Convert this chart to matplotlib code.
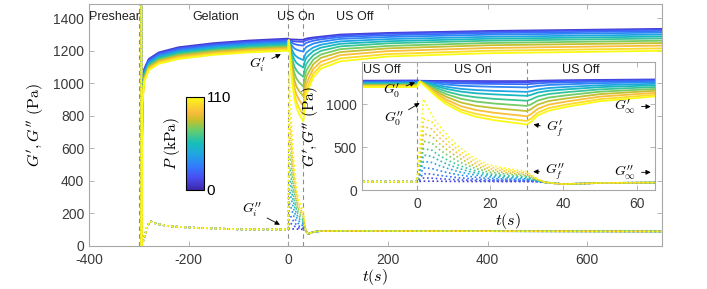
"""
G', G'' during gelation and an ultrasound on/off cycle, coloured by pressure P.
Main panel: whole run. Inset: zoom on the sonication window.
"""
import matplotlib
matplotlib.use("Agg")
import matplotlib.pyplot as plt
from matplotlib.cm import ScalarMappable
from matplotlib.colors import LinearSegmentedColormap, Normalize

plt.rcParams["font.family"] = ["Liberation Sans", "DejaVu Sans"]
plt.rcParams["mathtext.fontset"] = "cm"
plt.rcParams["axes.unicode_minus"] = False

# ── data ──────────────────────────────────────────────────────────────────────

pressures = [8, 16, 24, 32, 42, 52, 62, 72, 82, 92, 101, 110]  # kPa

# G' : gelation, US on, US off (one row per pressure)
t_gel = [-294.6, -293, -289, -280, -260, -220, -150, -80, 0]
gp_gel = [
    [0, 960, 1090, 1150, 1190, 1222, 1247, 1263, 1275],
    [0, 952, 1083, 1144, 1184, 1215, 1240, 1256, 1268],
    [0, 944, 1076, 1137, 1177, 1209, 1234, 1250, 1261],
    [0, 935, 1068, 1131, 1171, 1202, 1227, 1243, 1255],
    [0, 927, 1061, 1124, 1164, 1196, 1221, 1236, 1248],
    [0, 919, 1054, 1118, 1158, 1189, 1214, 1230, 1241],
    [0, 911, 1046, 1112, 1152, 1183, 1208, 1223, 1234],
    [0, 903, 1039, 1105, 1145, 1176, 1201, 1216, 1227],
    [0, 895, 1032, 1099, 1139, 1170, 1194, 1210, 1220],
    [0, 886, 1024, 1092, 1132, 1163, 1188, 1203, 1214],
    [0, 878, 1017, 1086, 1126, 1157, 1181, 1197, 1207],
    [0, 870, 1010, 1080, 1120, 1150, 1175, 1190, 1200],
]

t_us = [0.8, 3, 5.5, 8, 12, 16, 21, 30]
gp_us = [
    [1272, 1271, 1270, 1270, 1269, 1269, 1268, 1268],
    [1265, 1263, 1261, 1260, 1258, 1257, 1256, 1255],
    [1265, 1260, 1253, 1248, 1242, 1238, 1235, 1232],
    [1265, 1254, 1240, 1229, 1215, 1208, 1202, 1195],
    [1265, 1245, 1221, 1202, 1178, 1165, 1155, 1143],
    [1265, 1238, 1205, 1178, 1146, 1127, 1114, 1097],
    [1265, 1229, 1184, 1148, 1105, 1081, 1062, 1040],
    [1265, 1219, 1162, 1117, 1063, 1031, 1008, 980],
    [1265, 1210, 1141, 1086, 1020, 982, 955, 920],
    [1265, 1200, 1119, 1054, 977, 933, 901, 860],
    [1265, 1191, 1099, 1026, 938, 888, 851, 805],
    [1262, 1180, 1080, 1000, 910, 855, 815, 765],
]

t_rec = [31, 33, 36, 41, 50, 65, 104, 200, 400, 750]
gp_rec = [
    [1270, 1272, 1275, 1278, 1282, 1287, 1300, 1310, 1322, 1335],
    [1257, 1261, 1265, 1269, 1275, 1281, 1294, 1305, 1317, 1330],
    [1235, 1242, 1249, 1254, 1262, 1270, 1285, 1296, 1309, 1322],
    [1200, 1212, 1223, 1231, 1244, 1255, 1273, 1285, 1299, 1312],
    [1150, 1171, 1188, 1201, 1220, 1237, 1258, 1272, 1286, 1300],
    [1106, 1135, 1156, 1173, 1198, 1219, 1243, 1259, 1274, 1288],
    [1052, 1090, 1118, 1140, 1172, 1199, 1227, 1246, 1262, 1276],
    [995, 1042, 1077, 1104, 1145, 1177, 1210, 1230, 1248, 1262],
    [938, 995, 1037, 1068, 1117, 1156, 1192, 1215, 1234, 1248],
    [880, 946, 995, 1032, 1088, 1132, 1173, 1198, 1217, 1232],
    [828, 902, 956, 997, 1059, 1109, 1153, 1180, 1200, 1215],
    [790, 870, 925, 970, 1035, 1090, 1135, 1165, 1185, 1200],
]

# G'' : gelation and late recovery are the same for every pressure
t_gpp_gel = [-295.5, -295, -294.5, -290, -283, -277, -265, -240, -200, -100]
gpp_gel = [0, 1600, 0, 40, 120, 150, 135, 120, 112, 101]

t_gpp_us = [0, 1.8, 4.1, 5.9, 8.6, 11.4, 15, 19.5, 24.1, 30, 32.6]
gpp_us = [
    [100, 106, 106, 105, 104, 103, 102, 102, 101, 101, 100],
    [100, 143, 141, 135, 128, 122, 115, 110, 108, 106, 102],
    [100, 193, 188, 175, 160, 146, 133, 122, 118, 113, 105],
    [100, 261, 253, 230, 203, 180, 157, 138, 131, 123, 108],
    [100, 335, 323, 290, 251, 217, 184, 156, 145, 133, 112],
    [100, 409, 394, 350, 298, 254, 210, 174, 159, 144, 115],
    [100, 484, 465, 410, 346, 291, 237, 191, 173, 155, 119],
    [100, 570, 547, 480, 401, 334, 268, 212, 190, 167, 123],
    [100, 657, 629, 550, 457, 378, 298, 232, 206, 179, 127],
    [100, 743, 711, 620, 512, 421, 329, 253, 223, 191, 132],
    [100, 830, 794, 690, 568, 464, 360, 273, 239, 204, 136],
    [100, 1060, 876, 760, 623, 507, 391, 294, 256, 216, 140],
]

t_gpp_rec = [35, 40, 50, 65, 104, 300, 750]
gpp_rec = [92, 72, 85, 90, 91, 90, 88]

# parula-like colormap (sampled from MATLAB's parula)
parula = LinearSegmentedColormap.from_list("parula", [
    (0 / 63, (0.2422, 0.1504, 0.6603)),
    (8 / 63, (0.2813, 0.3006, 0.9414)),
    (16 / 63, (0.1963, 0.4847, 0.9892)),
    (24 / 63, (0.1248, 0.6459, 0.8883)),
    (32 / 63, (0.0964, 0.7500, 0.7120)),
    (40 / 63, (0.3909, 0.8029, 0.4354)),
    (48 / 63, (0.8203, 0.7498, 0.1535)),
    (52 / 63, (0.9728, 0.7298, 0.2394)),
    (56 / 63, (0.9892, 0.8136, 0.1885)),
    (63 / 63, (0.9769, 0.9839, 0.0805)),
])
norm = Normalize(vmin=0, vmax=110)

SPINE = "#a8a8a8"
TICK = "#3a3a3a"
DASH = "#8c8c8c"


def style_axes(ax):
    for s in ax.spines.values():
        s.set_color(SPINE)
        s.set_linewidth(0.8)
    ax.tick_params(direction="in", length=3.5, width=0.6, color=SPINE,
                   labelcolor=TICK, labelsize=10, top=True, right=True)
    ax.tick_params(axis="x", pad=5)


def draw_curves(ax):
    for i, p in enumerate(pressures):
        c = parula(norm(p))
        ax.plot(t_gel + t_us + t_rec, gp_gel[i] + gp_us[i] + gp_rec[i],
                color=c, lw=1.3, zorder=2)
        ax.plot(t_gpp_gel + t_gpp_us + t_gpp_rec, gpp_gel + gpp_us[i] + gpp_rec,
                color=c, lw=1.2, ls=(0, (1, 1.6)), zorder=2)


# ── figure ────────────────────────────────────────────────────────────────────

fig = plt.figure(figsize=(7.07, 2.89), dpi=100)
ax = fig.add_axes([0.1259, 0.1498, 0.8105, 0.8352])
draw_curves(ax)
for x in (-300, 0, 30):
    ax.axvline(x, color=DASH, lw=0.8, ls=(0, (4, 3)), zorder=1)
ax.set_xlim(-400, 750)
ax.set_ylim(0, 1486)
ax.set_xticks([-400, -200, 0, 200, 400, 600])
ax.set_yticks(range(0, 1401, 200))
style_axes(ax)
ax.set_xlabel(r"$t(s)$", fontsize=11.5, labelpad=0)
ax.set_ylabel(r"$G', G''\ \mathrm{(Pa)}$", fontsize=11.5, labelpad=5)

for x, s in [(-349, "Preshear"), (-146, "Gelation"), (15, "US On"), (134, "US Off")]:
    ax.text(x, 1407, s, ha="center", va="center", fontsize=9, color="#222222")

arw = dict(arrowstyle="-|>", color="black", lw=0.6, mutation_scale=7)
ax.annotate(r"$G_i^{\prime}$", xy=(-10, 1186), xytext=(-61, 1112), fontsize=10,
            ha="center", va="center", arrowprops=arw)
ax.annotate(r"$G_i^{\prime\prime}$", xy=(-12, 121), xytext=(-73, 220), fontsize=10,
            ha="center", va="center", arrowprops=arw)

# ── inset ─────────────────────────────────────────────────────────────────────

axi = fig.add_axes([0.512, 0.3415, 0.4144, 0.444])
axi.set_zorder(3)
draw_curves(axi)
for x in (0, 30):
    axi.axvline(x, color=DASH, lw=0.8, ls=(0, (4, 3)), zorder=1)
axi.set_xlim(-15, 65)
axi.set_ylim(0, 1490)
axi.set_xticks([0, 20, 40, 60])
axi.set_yticks([0, 500, 1000])
style_axes(axi)
axi.set_xlabel(r"$t(s)$", fontsize=11.5, labelpad=0)
axi.set_ylabel(r"$G', G''\ \mathrm{(Pa)}$", fontsize=11, labelpad=4)

for x, s in [(-9.5, "US Off"), (15.4, "US On"), (44.6, "US Off")]:
    axi.text(x, 1398, s, ha="center", va="center", fontsize=9, color="#222222")

axi.annotate(r"$G_0^{\prime}$", xy=(0.2, 1263), xytext=(-6.8, 1150), fontsize=10,
             ha="center", va="center", arrowprops=arw)
axi.annotate(r"$G_0^{\prime\prime}$", xy=(1.4, 1030), xytext=(-6.4, 830), fontsize=10,
             ha="center", va="center", arrowprops=arw)
axi.annotate(r"$G_f^{\prime}$", xy=(31.1, 771), xytext=(37.7, 715), fontsize=10,
             ha="center", va="center", arrowprops=arw)
axi.annotate(r"$G_f^{\prime\prime}$", xy=(31, 216), xytext=(37.7, 216), fontsize=10,
             ha="center", va="center", arrowprops=arw)
axi.annotate(r"$G_\infty^{\prime}$", xy=(64.6, 972), xytext=(56.8, 972), fontsize=10,
             ha="center", va="center", arrowprops=arw)
axi.annotate(r"$G_\infty^{\prime\prime}$", xy=(64.6, 209), xytext=(56.8, 209), fontsize=10,
             ha="center", va="center", arrowprops=arw)

# ── colorbar ──────────────────────────────────────────────────────────────────

cax = fig.add_axes([0.263, 0.3426, 0.0255, 0.3228])
cb = fig.colorbar(ScalarMappable(norm=norm, cmap=parula), cax=cax, ticks=[0, 110])
cb.outline.set_linewidth(0.8)
cb.ax.tick_params(length=0, labelsize=11, pad=2)
cb.set_label(r"$P\ \mathrm{(kPa)}$", fontsize=11, labelpad=3)
cb.ax.yaxis.set_label_position("left")

fig.savefig("out.png", dpi=100)
